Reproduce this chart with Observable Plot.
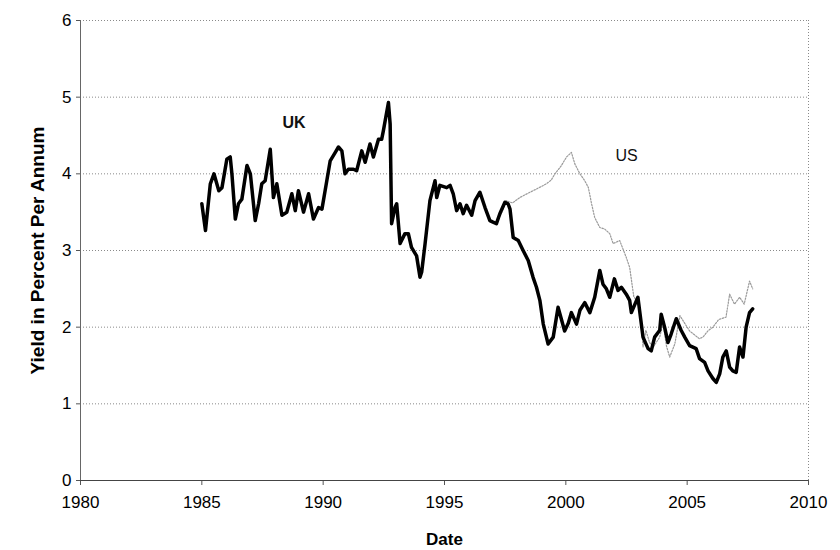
<!DOCTYPE html>
<html>
<head>
<meta charset="utf-8">
<script src="https://cdn.jsdelivr.net/npm/d3@7"></script>
<script src="https://cdn.jsdelivr.net/npm/@observablehq/plot@0.6"></script>
<style>
  body { margin: 0; background: #fff; }
  #chart svg { font-family: "Liberation Sans", Arial, sans-serif; background: #fff; }
  #chart g[aria-label="x-axis label"] text { font-weight: bold; font-size: 17px; }
  #chart g[aria-label="y-axis label"] text { font-weight: bold; font-size: 19px; }
</style>
</head>
<body>
<div id="chart"></div>
<script>
const ukYears = [
  1985.0, 1985.15, 1985.35, 1985.5, 1985.7, 1985.83, 1986.03, 1986.17, 1986.24, 1986.38,
  1986.51, 1986.65, 1986.86, 1987.0, 1987.2, 1987.34, 1987.47, 1987.61, 1987.82, 1987.95,
  1988.09, 1988.3, 1988.5, 1988.71, 1988.85, 1988.98, 1989.19, 1989.4, 1989.6, 1989.81,
  1989.95, 1990.15, 1990.29, 1990.5, 1990.63, 1990.77, 1990.9, 1991.04, 1991.25, 1991.38,
  1991.59, 1991.73, 1991.93, 1992.07, 1992.28, 1992.41, 1992.48, 1992.69, 1992.76, 1992.82,
  1992.96, 1993.03, 1993.17, 1993.37, 1993.51, 1993.64, 1993.85, 1993.99, 1994.06, 1994.2,
  1994.4, 1994.61, 1994.68, 1994.81, 1995.09, 1995.23, 1995.36, 1995.5, 1995.64, 1995.77,
  1995.91, 1996.12, 1996.26, 1996.46, 1996.67, 1996.87, 1997.0, 1997.14, 1997.28, 1997.49,
  1997.62, 1997.7, 1997.83, 1998.04, 1998.24, 1998.45, 1998.65, 1998.79, 1998.93, 1999.07,
  1999.27, 1999.48, 1999.68, 1999.82, 1999.95, 2000.1, 2000.23, 2000.44, 2000.58, 2000.78,
  2000.99, 2001.19, 2001.4, 2001.53, 2001.67, 2001.81, 2002.0, 2002.15, 2002.29, 2002.49,
  2002.63, 2002.7, 2002.97, 2003.18, 2003.39, 2003.52, 2003.66, 2003.87, 2003.93, 2004.07,
  2004.21, 2004.34, 2004.55, 2004.75, 2004.9, 2005.1, 2005.37, 2005.51, 2005.72, 2005.86,
  2006.06, 2006.2, 2006.34, 2006.47, 2006.61, 2006.75, 2006.88, 2007.02, 2007.16, 2007.3,
  2007.43, 2007.57, 2007.7
];
const ukValues = [
  3.61, 3.26, 3.87, 4.0, 3.78, 3.82, 4.19, 4.22, 4.0, 3.41,
  3.61, 3.67, 4.11, 4.0, 3.39, 3.61, 3.87, 3.91, 4.32, 3.69,
  3.87, 3.46, 3.5, 3.74, 3.52, 3.78, 3.5, 3.74, 3.41, 3.56,
  3.54, 3.91, 4.17, 4.28, 4.35, 4.3, 4.0, 4.06, 4.06, 4.04,
  4.3, 4.15, 4.39, 4.22, 4.45, 4.45, 4.56, 4.93, 4.65, 3.35,
  3.56, 3.61, 3.09, 3.22, 3.22, 3.04, 2.93, 2.65, 2.72, 3.09,
  3.65, 3.91, 3.69, 3.85, 3.82, 3.85, 3.74, 3.52, 3.61, 3.48,
  3.59, 3.46, 3.65, 3.76, 3.56, 3.39, 3.37, 3.35, 3.48, 3.63,
  3.61, 3.54, 3.17, 3.13, 3.0, 2.87, 2.65, 2.52, 2.35, 2.04,
  1.78, 1.87, 2.26, 2.1, 1.95, 2.05, 2.19, 2.04, 2.22, 2.32,
  2.19, 2.39, 2.74, 2.56, 2.5, 2.39, 2.63, 2.48, 2.52, 2.43,
  2.35, 2.19, 2.39, 1.87, 1.72, 1.69, 1.87, 1.96, 2.17, 2.0,
  1.8, 1.91, 2.11, 1.96, 1.87, 1.76, 1.72, 1.59, 1.54, 1.43,
  1.33, 1.28, 1.39, 1.61, 1.69, 1.48, 1.43, 1.41, 1.74, 1.61,
  2.0, 2.19, 2.24
];
const usYears = [
  1997.3, 1997.55, 1997.8, 1998.1, 1998.4, 1998.65, 1998.9, 1999.2, 1999.4, 1999.55,
  1999.8, 2000.03, 2000.23, 2000.37, 2000.58, 2000.78, 2000.93, 2001.06, 2001.19, 2001.4,
  2001.6, 2001.81, 2001.95, 2002.22, 2002.49, 2002.63, 2002.8, 2003.0, 2003.1, 2003.18,
  2003.3, 2003.45, 2003.6, 2003.87, 2004.0, 2004.15, 2004.28, 2004.49, 2004.7, 2004.9,
  2005.1, 2005.3, 2005.5, 2005.65, 2005.85, 2006.06, 2006.3, 2006.6, 2006.75, 2006.95,
  2007.16, 2007.35, 2007.57, 2007.7
];
const usValues = [
  3.45, 3.65, 3.62, 3.69, 3.74, 3.78, 3.82, 3.87, 3.92, 4.0,
  4.1, 4.22, 4.28, 4.13, 4.0, 3.91, 3.82, 3.61, 3.43, 3.3,
  3.28, 3.22, 3.09, 3.13, 2.91, 2.78, 2.4, 2.3, 2.13, 1.74,
  1.96, 1.8, 1.74, 1.87, 2.05, 1.75, 1.61, 1.78, 2.15, 2.05,
  1.95, 1.9, 1.85, 1.87, 1.95, 2.0, 2.1, 2.13, 2.43, 2.3,
  2.39, 2.3, 2.6, 2.5
];
const xTicks = [1980, 1985, 1990, 1995, 2000, 2005, 2010];
const yTicks = [0, 1, 2, 3, 4, 5, 6];
const seriesNames = ["UK", "US"];
const labelX = [1988.8, 2002.5];
const labelY = [4.67, 4.23];

const uk = ukYears.map((x, i) => ({x, y: ukValues[i]}));
const us = usYears.map((x, i) => ({x, y: usValues[i]}));
const labels = seriesNames.map((name, i) => ({name, x: labelX[i], y: labelY[i]}));

const chart = Plot.plot({
  width: 840,
  height: 550,
  marginLeft: 80,
  marginRight: 32,
  marginTop: 20,
  marginBottom: 70,
  x: {domain: [1980, 2010]},
  y: {domain: [0, 6]},
  marks: [
    Plot.ruleY(yTicks.filter(d => d > 0), {stroke: "#8a8a8a", strokeWidth: 1, strokeDasharray: "1,2"}),
    Plot.ruleX([2010], {stroke: "#8a8a8a", strokeWidth: 1, strokeDasharray: "1,2"}),
    Plot.axisX({ticks: xTicks, tickFormat: d => String(d), tickSize: 5, tickPadding: 10, fontSize: 17,
      stroke: "#555", label: "Date", labelAnchor: "center", labelOffset: 64, labelArrow: "none"}),
    Plot.axisY({ticks: yTicks, tickFormat: d => String(d), tickSize: 4, tickPadding: 5, fontSize: 17, stroke: "#555",
      label: "Yield in Percent Per Annum", labelAnchor: "center", labelOffset: 50, labelArrow: "none"}),
    Plot.ruleX([1980], {stroke: "#666", strokeWidth: 1}),
    Plot.ruleY([0], {stroke: "#444", strokeWidth: 1.2}),
    Plot.line(us, {x: "x", y: "y", stroke: "#9a9a9a", strokeWidth: 1.2, strokeDasharray: "1.5,1.5"}),
    Plot.line(uk, {x: "x", y: "y", stroke: "#000", strokeWidth: 3.5, strokeLinejoin: "round"}),
    Plot.text(labels.filter(d => d.name === "UK"), {x: "x", y: "y", text: "name", fontSize: 16, fontWeight: "bold", fill: "#111"}),
    Plot.text(labels.filter(d => d.name === "US"), {x: "x", y: "y", text: "name", fontSize: 16, fill: "#111"})
  ]
});
document.getElementById("chart").appendChild(chart);
</script>
</body>
</html>
